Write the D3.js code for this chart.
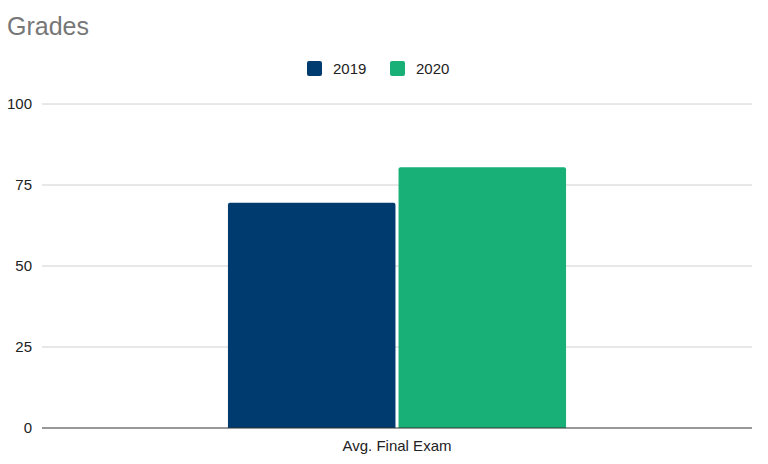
<!DOCTYPE html>
<html>
<head>
<meta charset="utf-8">
<script src="https://cdn.jsdelivr.net/npm/d3@7"></script>
<style>
  body { margin: 0; background: #fff; }
  text { font-family: "Liberation Sans", Arial, sans-serif; }
</style>
</head>
<body>
<div id="chart"></div>
<script>
// Chart data
const categories = ["Avg. Final Exam"];
const seriesNames = ["2019", "2020"];
const values2019 = [69.5];
const values2020 = [80.5];
const yTicks = [0, 25, 50, 75, 100];

const width = 768;
const height = 464;
const margin = { top: 104, right: 16, bottom: 36, left: 42 };

const colors = d3.scaleOrdinal()
    .domain(seriesNames)
    .range(["#003b6f", "#19b077"]);

const svg = d3.select("#chart")
    .append("svg")
    .attr("width", width)
    .attr("height", height);

// Title
svg.append("text")
    .attr("x", 7)
    .attr("y", 35)
    .attr("fill", "#777")
    .attr("font-size", 25)
    .text("Grades");

const x = d3.scaleBand()
    .domain(categories)
    .range([margin.left, width - margin.right])
    .paddingInner(0)
    .paddingOuter(0.55);

const xSub = d3.scaleBand()
    .domain(seriesNames)
    .range([0, x.bandwidth()])
    .paddingInner(0.018);

const y = d3.scaleLinear()
    .domain([0, 100])
    .range([height - margin.bottom, margin.top]);

// Gridlines
svg.append("g")
    .selectAll("line")
    .data(yTicks.filter(d => d !== 0))
    .join("line")
    .attr("x1", margin.left)
    .attr("x2", width - margin.right)
    .attr("y1", d => y(d))
    .attr("y2", d => y(d))
    .attr("stroke", "#d0d0d0")
    .attr("stroke-width", 1);

// Y tick labels
svg.append("g")
    .selectAll("text")
    .data(yTicks)
    .join("text")
    .attr("x", 32)
    .attr("y", d => y(d))
    .attr("dy", "0.35em")
    .attr("text-anchor", "end")
    .attr("font-size", 15)
    .attr("fill", "#222")
    .text(d => d);

// Bars
const rows = categories.map((c, i) => ({
    category: c,
    items: [
        { series: "2019", value: values2019[i] },
        { series: "2020", value: values2020[i] }
    ]
}));

const groups = svg.append("g")
    .selectAll("g")
    .data(rows)
    .join("g")
    .attr("transform", d => `translate(${x(d.category)},0)`);

groups.selectAll("path")
    .data(d => d.items)
    .join("path")
    .attr("fill", d => colors(d.series))
    .attr("d", d => {
        const x0 = xSub(d.series), w = xSub.bandwidth();
        const top = y(d.value), bottom = y(0), r = 2;
        return `M${x0},${bottom} V${top + r} Q${x0},${top} ${x0 + r},${top}` +
            ` H${x0 + w - r} Q${x0 + w},${top} ${x0 + w},${top + r} V${bottom} Z`;
    });

// Baseline
svg.append("line")
    .attr("x1", margin.left)
    .attr("x2", width - margin.right)
    .attr("y1", y(0))
    .attr("y2", y(0))
    .attr("stroke", "#333")
    .attr("stroke-width", 1);

// Category label
svg.append("g")
    .selectAll("text")
    .data(categories)
    .join("text")
    .attr("x", d => x(d) + x.bandwidth() / 2)
    .attr("y", y(0) + 23)
    .attr("text-anchor", "middle")
    .attr("font-size", 15)
    .attr("fill", "#222")
    .text(d => d);

// Legend
const legend = svg.append("g")
    .selectAll("g")
    .data(seriesNames)
    .join("g")
    .attr("transform", (d, i) => `translate(${307 + i * 83}, 61)`);

legend.append("rect")
    .attr("width", 15)
    .attr("height", 15)
    .attr("rx", 2)
    .attr("fill", d => colors(d));

legend.append("text")
    .attr("x", 26)
    .attr("y", 7.5)
    .attr("dy", "0.35em")
    .attr("font-size", 15)
    .attr("fill", "#222")
    .text(d => d);
</script>
</body>
</html>
